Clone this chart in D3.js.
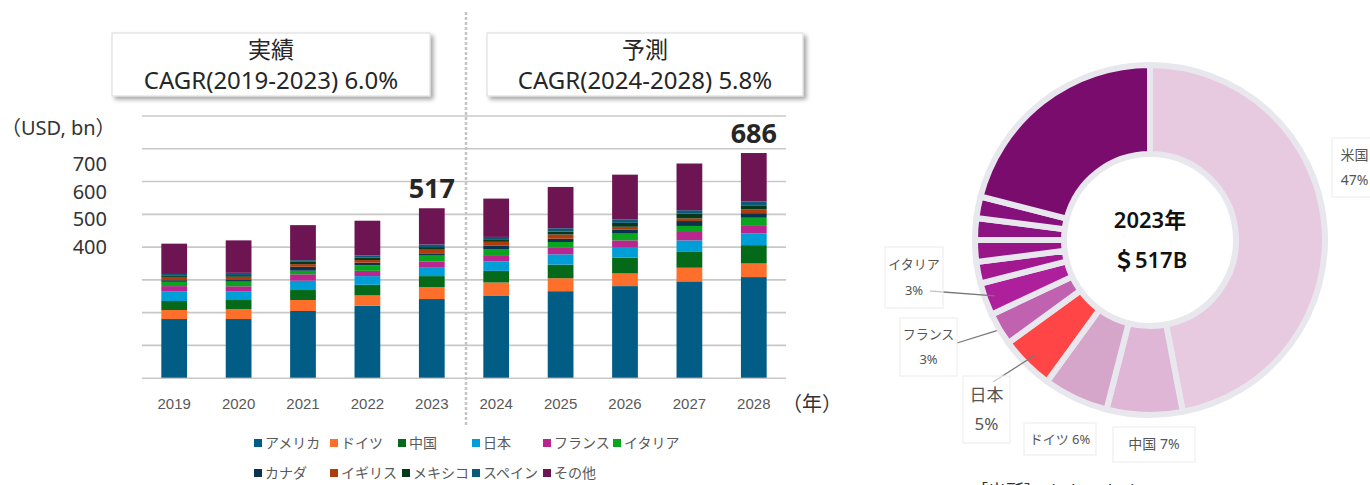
<!DOCTYPE html>
<html>
<head>
<meta charset="utf-8">
<script src="https://d3js.org/d3.v7.min.js"></script>
<style>
  body { margin: 0; background: #fff; font-family: "Noto Sans", "Noto Sans CJK JP", sans-serif; }
  .grid line { stroke: #c8c8c8; stroke-width: 1.6; }
  .grid .domain { display: none; }
  .xaxis .domain { display: none; }
  .xaxis text { font-size: 15px; fill: #595959; }
  .legend text { font-size: 14px; fill: #595959; }
  .pielabel text { font-size: 13px; fill: #555; }
</style>
</head>
<body>
<svg id="chart" width="1370" height="485"></svg>
<script>
// stacked bar data (USD bn)
const years = ["2019", "2020", "2021", "2022", "2023", "2024", "2025", "2026", "2027", "2028"];
const countries = ["アメリカ", "ドイツ", "中国", "日本", "フランス", "イタリア", "カナダ", "イギリス", "メキシコ", "スペイン", "その他"];
const usa     = [179, 179, 203.5, 219.5, 240, 251, 264, 279.5, 294, 307];
const germany = [27.5, 30.5, 33.5, 31.5, 36.5, 39.5, 39.5, 38.5, 41.5, 41.5];
const china   = [27.5, 27.5, 30.5, 32.5, 33.5, 35.5, 41.5, 48, 50, 56];
const japan   = [28.5, 25.5, 28.5, 26.5, 25.5, 28.5, 31.5, 30.5, 33.5, 35.5];
const france  = [17, 16.5, 19.5, 16, 18.5, 19.5, 21.5, 22.5, 25.5, 25.5];
const italy   = [13, 14, 11, 17, 18.5, 18.5, 16, 20.5, 18.5, 22.5];
const canada  = [5, 5, 12, 8, 7, 10, 10, 13, 15, 14];
const uk      = [10, 10, 8, 8, 11, 12, 13, 8, 8, 12];
const mexico  = [5, 5, 7, 8, 8, 8, 9, 12, 15, 12];
const spain   = [4, 7, 5, 6, 8, 7, 10, 10, 10, 12];
const others  = [92.5, 99, 107, 106, 110.5, 117, 126, 137, 142.5, 147.5];
const yTicks = [0, 100, 200, 300, 400, 500, 600, 700, 800];
const yLabels = [400, 500, 600, 700];
const totalLabels = [{ year: "2023", text: "517" }, { year: "2028", text: "686" }];

// donut data (2023 share %)
const pieNames = ["米国", "中国", "ドイツ", "日本", "フランス", "イタリア", "カナダ", "イギリス", "メキシコ", "スペイン", "その他"];
const pieShares = [47, 7, 6, 5, 3, 3, 2, 2, 2, 2, 21];

const barColors = ["#015d86", "#fd6f2a", "#05691a", "#009ed6", "#b9268f", "#0aa51e",
                   "#0a3350", "#af3c0c", "#06381a", "#0c5a7a", "#6d1452"];
const pieColors = ["#e8cae0", "#dfb6d5", "#d6a6ca", "#ff4545", "#c062b0", "#ae1f9b",
                   "#a2188f", "#981588", "#8e1382", "#86117c", "#7a0c6e"];

const svg = d3.select("#chart");

const defs = svg.append("defs");
const shadow = defs.append("filter").attr("id", "shadow")
  .attr("x", "-10%").attr("y", "-20%").attr("width", "130%").attr("height", "160%");
shadow.append("feDropShadow").attr("dx", 3).attr("dy", 3).attr("stdDeviation", 2)
  .attr("flood-color", "#000").attr("flood-opacity", 0.35);

// scales
const x = d3.scaleBand().domain(years).range([142, 786]).paddingInner(0.6).paddingOuter(0.3);
const y = d3.scaleLinear().domain([0, 800]).range([377.7, 115.5]);

// gridlines
svg.append("g")
  .attr("class", "grid")
  .attr("transform", "translate(142,0)")
  .call(d3.axisLeft(y).tickValues(yTicks).tickSize(-(786 - 142)).tickFormat(""));

// stacked bars
const series = [usa, germany, china, japan, france, italy, canada, uk, mexico, spain, others];
const rows = years.map((yr, i) => {
  const r = { year: yr };
  countries.forEach((c, k) => r[c] = series[k][i]);
  return r;
});
const stacked = d3.stack().keys(countries)(rows);

svg.append("g").selectAll("g")
  .data(stacked)
  .join("g")
  .attr("fill", (d, i) => barColors[i])
  .selectAll("rect")
  .data(d => d)
  .join("rect")
  .attr("x", d => x(d.data.year))
  .attr("y", d => y(d[1]))
  .attr("width", x.bandwidth())
  .attr("height", d => y(d[0]) - y(d[1]));

// total labels
const totals = years.map((yr, i) => d3.sum(series, s => s[i]));
svg.selectAll(".total")
  .data(totalLabels)
  .join("text")
  .attr("x", d => x(d.year) + x.bandwidth() / 2)
  .attr("y", d => y(totals[years.indexOf(d.year)]) - 10)
  .attr("text-anchor", "middle")
  .style("font-size", "27px")
  .style("font-weight", "bold")
  .style("fill", "#262626")
  .text(d => d.text);

// x axis
svg.append("g")
  .attr("class", "xaxis")
  .attr("transform", "translate(0,378)")
  .call(d3.axisBottom(x).tickSize(0).tickPadding(20));

svg.append("text")
  .attr("x", 782).attr("y", 411)
  .style("font-size", "20px").style("fill", "#333")
  .text("（年）");

// y labels (placed as in the slide, tighter than the grid)
const labelY = d3.scaleLinear().domain([400, 700]).range([y(400), y(400) - 82.5]);
svg.append("g").selectAll("text")
  .data(yLabels)
  .join("text")
  .attr("x", 107)
  .attr("y", d => labelY(d))
  .attr("dy", "0.35em")
  .attr("text-anchor", "end")
  .style("font-size", "20px")
  .style("fill", "#333")
  .text(d => d);

svg.append("text")
  .attr("x", 1).attr("y", 128).attr("dy", "0.35em")
  .style("font-size", "20px").style("fill", "#333")
  .text("（USD, bn）");

// divider
svg.append("line")
  .attr("x1", 466).attr("x2", 466).attr("y1", 12).attr("y2", 426)
  .attr("stroke", "#c4c4c4").attr("stroke-width", 2.5)
  .attr("stroke-dasharray", "3,2");

// title boxes
const boxes = [
  { x0: 112, x1: 430, title: "実績", sub: "CAGR(2019-2023) 6.0%" },
  { x0: 487, x1: 803, title: "予測", sub: "CAGR(2024-2028) 5.8%" }
];
const box = svg.append("g").selectAll("g").data(boxes).join("g");
box.append("rect")
  .attr("x", d => d.x0).attr("y", 33)
  .attr("width", d => d.x1 - d.x0).attr("height", 63)
  .attr("fill", "#fff").attr("stroke", "#d9d9d9")
  .attr("filter", "url(#shadow)");
box.append("text")
  .attr("x", d => (d.x0 + d.x1) / 2).attr("y", 50).attr("dy", "0.35em")
  .attr("text-anchor", "middle")
  .style("font-size", "23px").style("fill", "#262626")
  .text(d => d.title);
box.append("text")
  .attr("x", d => (d.x0 + d.x1) / 2).attr("y", 81).attr("dy", "0.35em")
  .attr("text-anchor", "middle")
  .style("font-size", "24px").style("fill", "#262626")
  .text(d => d.sub);

// legend
const legendCols = [[254, 330, 398, 472, 543, 613], [254, 330, 402, 472, 543]];
const legend = svg.append("g").attr("class", "legend").selectAll("g")
  .data(countries)
  .join("g")
  .attr("transform", (d, i) => {
    const row = i < 6 ? 0 : 1;
    return `translate(${legendCols[row][row ? i - 6 : i]},${row ? 473 : 443})`;
  });
legend.append("rect")
  .attr("x", 0).attr("y", -4).attr("width", 8).attr("height", 8)
  .attr("fill", (d, i) => barColors[i]);
legend.append("text")
  .attr("x", 11).attr("dy", "0.35em")
  .text(d => d);

// donut
const cx = 1150, cy = 240;
const pie = d3.pie().sort(null).value(d => d);
const arcs = pie(pieShares);
const arc = d3.arc().innerRadius(86).outerRadius(175);
const donut = svg.append("g").attr("transform", `translate(${cx},${cy})`);
donut.selectAll("path")
  .data(arcs)
  .join("path")
  .attr("d", arc)
  .attr("fill", (d, i) => pieColors[i])
  .attr("stroke", "#e8e7ee")
  .attr("stroke-width", 6)
  .attr("stroke-linejoin", "round");

donut.append("text")
  .attr("y", -20).attr("dy", "0.35em").attr("text-anchor", "middle")
  .style("font-size", "22px").style("font-weight", 600).style("fill", "#111")
  .text("2023年");
donut.append("text")
  .attr("y", 20).attr("dy", "0.35em").attr("text-anchor", "middle")
  .style("font-size", "22px").style("font-weight", 600).style("fill", "#111")
  .text("＄517B");

// donut labels
const pieLabelLayout = [
  { i: 0, x0: 1332, y0: 138, w: 45, h: 59, lines: ["米国", "47%"], size: 14 },
  { i: 5, x0: 885, y0: 247, w: 58, h: 61, lines: ["イタリア", "3%"], size: 13, lineR: 165, ax: 930, ay: 291 },
  { i: 4, x0: 900, y0: 318, w: 57, h: 58, lines: ["フランス", "3%"], size: 13, lineR: 178, ax: 957, ay: 343 },
  { i: 3, x0: 963, y0: 376, w: 47, h: 67, lines: ["日本", "5%"], size: 17, lineR: 163, ax: 993, ay: 382 },
  { i: 2, x0: 1024, y0: 423, w: 72, h: 32, lines: ["ドイツ 6%"], size: 13 },
  { i: 1, x0: 1113, y0: 427, w: 82, h: 35, lines: ["中国 7%"], size: 14 }
];
const lbl = svg.append("g").attr("class", "pielabel").selectAll("g")
  .data(pieLabelLayout)
  .join("g");
lbl.filter(d => d.lineR).append("line")
  .attr("x1", d => d.ax).attr("y1", d => d.ay)
  .attr("x2", d => cx + d3.arc().innerRadius(d.lineR).outerRadius(d.lineR).centroid(arcs[d.i])[0])
  .attr("y2", d => cy + d3.arc().innerRadius(d.lineR).outerRadius(d.lineR).centroid(arcs[d.i])[1])
  .attr("stroke", "#777").attr("stroke-width", 1.3);
lbl.append("rect")
  .attr("x", d => d.x0).attr("y", d => d.y0)
  .attr("width", d => d.w).attr("height", d => d.h)
  .attr("fill", "#fff").attr("fill-opacity", 0.6)
  .attr("stroke", "#ebebeb");
lbl.each(function(d) {
  const g = d3.select(this);
  const n = d.lines.length;
  d.lines.forEach((t, k) => {
    g.append("text")
      .attr("x", d.x0 + d.w / 2)
      .attr("y", d.y0 + d.h * (k + 0.5) / n + (n > 1 ? (k === 0 ? 2 : -2) : 0))
      .attr("dy", "0.35em")
      .attr("text-anchor", "middle")
      .style("font-size", d.size + "px")
      .text(t);
  });
});

// source note (cut off at bottom of the slide, as in the original)
svg.append("text")
  .attr("x", 970).attr("y", 498)
  .style("font-size", "18px").style("fill", "#333")
  .text("［出所］Fitch Solutions");
</script>
</body>
</html>
